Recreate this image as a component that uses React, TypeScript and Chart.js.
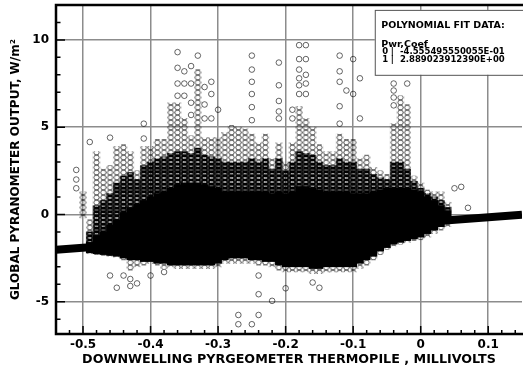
import React, { useEffect, useRef } from 'react';
import { Chart, registerables } from 'chart.js';

Chart.register(...registerables);

// ---- data ----
// columns of measurements (x in millivolts) with the extents of their circle stacks
const colX = [-0.50, -0.49, -0.48, -0.47, -0.46, -0.45, -0.44, -0.43, -0.42, -0.41,
  -0.40, -0.39, -0.38, -0.37, -0.36, -0.35, -0.34, -0.33, -0.32, -0.31,
  -0.30, -0.29, -0.28, -0.27, -0.26, -0.25, -0.24, -0.23, -0.22, -0.21,
  -0.20, -0.19, -0.18, -0.17, -0.16, -0.15, -0.14, -0.13, -0.12, -0.11,
  -0.10, -0.09, -0.08, -0.07, -0.06, -0.05, -0.04, -0.03, -0.02, -0.01,
  0.00, 0.01, 0.02, 0.03, 0.04];
// whole visible stack (sparse circles)
const spreadLo = [-0.2, -2.25, -2.3, -2.35, -2.4, -2.45, -2.6, -3.2, -3.0, -2.9,
  -2.8, -2.9, -3.1, -3.0, -3.1, -3.1, -3.1, -3.1, -3.1, -3.1,
  -3.0, -2.8, -2.8, -2.8, -2.8, -2.8, -2.9, -2.9, -3.0, -3.2,
  -3.3, -3.3, -3.3, -3.3, -3.4, -3.4, -3.3, -3.3, -3.3, -3.3,
  -3.3, -3.1, -2.9, -2.6, -2.3, -2.0, -1.8, -1.7, -1.6, -1.5,
  -1.45, -1.3, -1.1, -0.9, -0.7];
const spreadHi = [1.3, -0.3, 3.6, 2.6, 2.8, 3.9, 4.0, 3.6, 2.5, 3.9,
  3.9, 4.3, 4.3, 6.4, 6.4, 5.5, 4.5, 8.3, 4.4, 4.4,
  4.4, 4.7, 5.1, 5.0, 4.9, 4.6, 4.1, 4.6, 3.2, 4.1,
  3.0, 4.1, 6.2, 5.5, 5.0, 4.0, 3.6, 3.6, 4.6, 4.3,
  4.3, 3.2, 3.4, 2.7, 2.5, 2.3, 5.2, 6.8, 6.3, 2.2,
  1.8, 1.4, 1.3, 1.3, 0.7];
// top of the crowded (dark grey) part of each stack
const midHi = [null, -1.0, 0.5, 0.8, 1.2, 1.8, 2.2, 2.4, 2.0, 2.8,
  3.0, 3.2, 3.3, 3.5, 3.6, 3.6, 3.5, 3.8, 3.4, 3.3,
  3.2, 3.0, 3.0, 3.0, 3.0, 3.2, 3.0, 3.2, 2.6, 3.2,
  2.5, 3.0, 3.6, 3.5, 3.4, 3.0, 2.8, 2.8, 3.2, 3.0,
  3.0, 2.6, 2.6, 2.3, 2.1, 2.0, 3.0, 3.0, 2.6, 1.9,
  1.5, 1.2, 1.0, 0.8, 0.4];
// solid black core
const coreLo = [null, -2.2, -2.25, -2.3, -2.35, -2.4, -2.5, -2.6, -2.6, -2.7,
  -2.7, -2.8, -2.8, -2.9, -2.9, -2.9, -2.9, -2.9, -2.9, -2.9,
  -2.8, -2.6, -2.5, -2.5, -2.5, -2.6, -2.6, -2.7, -2.7, -2.9,
  -3.0, -3.0, -3.0, -3.0, -3.1, -3.1, -3.0, -3.0, -3.0, -3.0,
  -3.0, -2.8, -2.6, -2.4, -2.1, -1.9, -1.7, -1.6, -1.5, -1.4,
  -1.3, -1.1, -0.9, -0.7, -0.5];
const coreHi = [null, -1.6, -1.2, -1.0, -0.6, -0.3, 0.1, 0.4, 0.6, 0.8,
  1.0, 1.2, 1.3, 1.5, 1.7, 1.8, 1.8, 1.8, 1.7, 1.6,
  1.5, 1.3, 1.3, 1.3, 1.3, 1.3, 1.3, 1.3, 1.2, 1.3,
  1.2, 1.3, 1.6, 1.6, 1.5, 1.4, 1.3, 1.3, 1.3, 1.3,
  1.2, 1.2, 1.2, 1.3, 1.4, 1.5, 1.5, 1.5, 1.5, 1.4,
  1.3, 1.0, 0.8, 0.5, 0.2];

// isolated circles
const outX = [-0.51, -0.51, -0.51, -0.49, -0.46, -0.46, -0.45, -0.44, -0.43, -0.43,
  -0.42, -0.41, -0.41, -0.40, -0.38,
  -0.36, -0.36, -0.36, -0.36, -0.35, -0.35, -0.35, -0.34, -0.34, -0.34, -0.34,
  -0.33, -0.32, -0.32, -0.32, -0.31, -0.31, -0.31, -0.30,
  -0.27, -0.27, -0.25, -0.25, -0.25, -0.25, -0.25, -0.25, -0.25,
  -0.24, -0.24, -0.24, -0.22, -0.21, -0.21, -0.21, -0.21, -0.21, -0.20, -0.19, -0.19,
  -0.18, -0.18, -0.18, -0.18, -0.18, -0.18, -0.17, -0.17, -0.17, -0.17, -0.17,
  -0.16, -0.15, -0.12, -0.12, -0.12, -0.12, -0.12, -0.11, -0.10, -0.10, -0.09, -0.09,
  -0.04, -0.04, -0.04, -0.04, -0.02, 0.05, 0.06, 0.07];
const outY = [2.55, 2.0, 1.5, 4.15, 4.4, -3.5, -4.2, -3.5, -3.7, -4.1,
  -3.95, 5.2, 4.35, -3.5, -3.3,
  9.3, 8.4, 7.5, 6.8, 8.2, 7.5, 6.8, 8.5, 7.5, 6.4, 5.7,
  9.1, 7.3, 6.3, 5.5, 7.6, 6.9, 5.5, 6.0,
  -5.76, -6.29, 9.1, 8.3, 7.6, 6.9, 6.15, 5.4, -6.29,
  -5.76, -4.57, -3.5, -4.95, 8.7, 7.4, 6.5, 5.9, 5.5, -4.23, 6.0, 5.5,
  9.7, 8.9, 8.3, 7.8, 7.4, 6.9, 9.7, 8.9, 8.0, 7.5, 6.9,
  -3.9, -4.2, 9.1, 8.2, 7.6, 6.2, 5.2, 7.1, 8.9, 6.9, 7.8, 5.5,
  7.5, 7.1, 6.7, 6.25, 7.5, 1.5, 1.58, 0.38];

// polynomial fit line (end points)
const fitX = [-0.54, 0.15];
const fitY = [-2.02, -0.02];

// axes
const xMajor = [-0.5, -0.4, -0.3, -0.2, -0.1, 0, 0.1];
const xLabels = ['-0.5', '-0.4', '-0.3', '-0.2', '-0.1', '0', '0.1'];
const xMinor = [-0.54, -0.52, -0.48, -0.46, -0.44, -0.42, -0.38, -0.36, -0.34, -0.32,
  -0.28, -0.26, -0.24, -0.22, -0.18, -0.16, -0.14, -0.12, -0.08, -0.06, -0.04, -0.02,
  0.02, 0.04, 0.06, 0.08, 0.12, 0.14];
const yMajor = [-5, 0, 5, 10];
const yLabels = ['-5', '0', '5', '10'];
const yMinor = [-6, -4, -3, -2, -1, 1, 2, 3, 4, 6, 7, 8, 9, 11];

const xTitle = 'DOWNWELLING PYRGEOMETER THERMOPILE , MILLIVOLTS';
const yTitle = 'GLOBAL PYRANOMETER OUTPUT, W/m²';
const fitTitle = 'POLYNOMIAL FIT DATA:';
const fitHeader = 'Pwr,Coef';
const fitPowers = ['0', '1'];
const fitCoefs = ['-4.555495550055E-01', '2.889023912390E+00'];

const FONT = "'DejaVu Sans', 'Liberation Sans', Arial, sans-serif";

function circlePattern(chart: any, name: string, stroke: string, lw: number, pitch: number, bg: string, fallback: string) {
  const xs = chart.scales && chart.scales.x;
  if (!xs) return fallback;
  const p0 = xs.getPixelForValue(0);
  const p1 = xs.getPixelForValue(0.01);
  const step = p1 - p0;
  if (!isFinite(step) || step <= 0) return fallback;
  const key = name + '|' + step.toFixed(3) + '|' + p0.toFixed(2);
  chart.$patterns = chart.$patterns || {};
  if (chart.$patterns[key]) return chart.$patterns[key];
  const c = document.createElement('canvas');
  c.width = 7;
  c.height = pitch;
  const g = c.getContext('2d')!;
  if (bg) {
    g.fillStyle = bg;
    g.fillRect(0, 0, 7, pitch);
  }
  g.strokeStyle = stroke;
  g.lineWidth = lw;
  const h = pitch / 2;
  for (const cy of [h - pitch * 2, h - pitch, h, h + pitch, h + pitch * 2]) {
    g.beginPath();
    g.arc(3.5, cy, 2.6, 0, Math.PI * 2);
    g.stroke();
  }
  const pat = chart.ctx.createPattern(c, 'repeat');
  if (!pat) return fallback;
  pat.setTransform(new DOMMatrix([step / 7, 0, 0, 1, p0 - step / 2, 0]));
  chart.$patterns[key] = pat;
  return pat;
}

const decorPlugin = {
  id: 'decor',
  afterDraw(chart: any) {
    const { ctx, chartArea: a, scales } = chart;
    const xs = scales.x;
    const ys = scales.y;
    ctx.save();
    // inward ticks
    ctx.strokeStyle = '#000';
    ctx.lineWidth = 1.5;
    ctx.beginPath();
    for (const v of xMajor) {
      const px = xs.getPixelForValue(v);
      ctx.moveTo(px, a.bottom);
      ctx.lineTo(px, a.bottom - 8);
    }
    for (const v of xMinor) {
      const px = xs.getPixelForValue(v);
      ctx.moveTo(px, a.bottom);
      ctx.lineTo(px, a.bottom - 4);
    }
    for (const v of yMajor) {
      const py = ys.getPixelForValue(v);
      ctx.moveTo(a.left, py);
      ctx.lineTo(a.left + 9, py);
    }
    for (const v of yMinor) {
      const py = ys.getPixelForValue(v);
      ctx.moveTo(a.left, py);
      ctx.lineTo(a.left + 4.5, py);
    }
    ctx.stroke();
    // frame
    ctx.lineWidth = 2.5;
    ctx.strokeRect(a.left, a.top, a.right - a.left + 3, a.bottom - a.top);

    // fit info box
    const bx = xs.getPixelForValue(-0.068);
    const by = ys.getPixelForValue(11.72);
    const bw = a.right + 3 - bx;
    const bh = ys.getPixelForValue(8.0) - by;
    ctx.fillStyle = '#fff';
    ctx.fillRect(bx, by, bw, bh);
    ctx.strokeStyle = '#555';
    ctx.lineWidth = 1;
    ctx.strokeRect(bx + 0.5, by + 0.5, bw, bh);
    ctx.fillStyle = '#000';
    ctx.textBaseline = 'alphabetic';
    ctx.textAlign = 'left';
    ctx.font = `bold 9.5px ${FONT}`;
    ctx.fillText(fitTitle, bx + 6.5, by + 18.3);
    ctx.fillText(fitHeader, bx + 6.5, by + 36.7);
    ctx.font = `bold 8.5px ${FONT}`;
    for (let i = 0; i < fitPowers.length; i++) {
      const yy = by + 44.5 + i * 7.7;
      ctx.textAlign = 'left';
      ctx.fillText(fitPowers[i], bx + 7.5, yy);
      ctx.fillText('|', bx + 16, yy);
      ctx.textAlign = 'right';
      ctx.fillText(fitCoefs[i], bx + 130, yy);
    }
    ctx.restore();
  },
};

export default function App() {
  const ref = useRef<HTMLCanvasElement | null>(null);
  useEffect(() => {
    if (!ref.current) return;
    const spreadData = colX.map((x, i) => ({ x, y: [spreadLo[i], spreadHi[i]] }));
    const midData = colX
      .map((x, i) => ({ x, lo: coreHi[i], hi: midHi[i] }))
      .filter((d) => d.lo !== null && d.hi !== null)
      .map((d) => ({ x: d.x, y: [d.lo as number, d.hi as number] }));
    const coreData = colX
      .map((x, i) => ({ x, lo: coreLo[i], hi: coreHi[i] }))
      .filter((d) => d.lo !== null && d.hi !== null)
      .map((d) => ({ x: d.x, y: [d.lo as number, d.hi as number] }));
    const outData = outX.map((x, i) => ({ x, y: outY[i] }));
    const fitData = fitX.map((x, i) => ({ x, y: fitY[i] }));

    const tickFont = { family: FONT, size: 12, weight: 'bold' as const };

    const chart = new Chart(ref.current, {
      type: 'scatter',
      data: {
        datasets: [
          {
            type: 'line',
            data: fitData,
            borderColor: '#000',
            borderWidth: 8,
            pointRadius: 0,
            showLine: true,
            fill: false,
            order: 0,
          } as any,
          {
            type: 'scatter',
            data: outData,
            pointStyle: 'circle',
            pointRadius: 2.8,
            borderWidth: 1,
            borderColor: 'rgba(0,0,0,0.6)',
            backgroundColor: 'rgba(0,0,0,0)',
            order: 1,
          } as any,
          {
            type: 'bar',
            data: coreData,
            backgroundColor: '#000',
            borderWidth: 0,
            barThickness: 7,
            stack: 'cols',
            order: 2,
          } as any,
          {
            type: 'bar',
            data: midData,
            backgroundColor: (c: any) => circlePattern(c.chart, 'mid', '#000', 1.4, 4, 'rgba(0,0,0,0.3)', 'rgba(0,0,0,0.7)'),
            borderWidth: 0,
            barThickness: 7,
            stack: 'cols',
            order: 3,
          } as any,
          {
            type: 'bar',
            data: spreadData,
            backgroundColor: (c: any) => circlePattern(c.chart, 'spread', 'rgba(0,0,0,0.65)', 1, 5, '', 'rgba(0,0,0,0.35)'),
            borderWidth: 0,
            barThickness: 7,
            stack: 'cols',
            order: 4,
          } as any,
        ],
      },
      options: {
        responsive: false,
        animation: false,
        events: [],
        layout: { autoPadding: false, padding: { top: 5, right: 1, left: 0, bottom: 0 } },
        plugins: { legend: { display: false }, tooltip: { enabled: false } },
        scales: {
          x: {
            type: 'linear',
            min: -0.54,
            max: 0.15,
            offset: false,
            afterBuildTicks: (s: any) => {
              s.ticks = xMajor.map((v) => ({ value: v }));
            },
            afterFit: (s: any) => {
              s.height = 34;
              s.paddingLeft = 0;
              s.paddingRight = 0;
            },
            grid: { color: '#8c8c8c', lineWidth: 1.5, drawTicks: false, offset: false },
            border: { display: false },
            ticks: {
              autoSkip: false,
              maxRotation: 0,
              padding: 4,
              color: '#000',
              font: tickFont,
              callback: (v: any) => xLabels[xMajor.indexOf(Number(v))],
            },
            title: {
              display: true,
              text: xTitle,
              color: '#000',
              font: { family: FONT, size: 12.7, weight: 'bold' },
              padding: { top: 0, bottom: 0.5 },
            },
          },
          y: {
            type: 'linear',
            min: -6.85,
            max: 12,
            stacked: false,
            afterBuildTicks: (s: any) => {
              s.ticks = yMajor.map((v) => ({ value: v }));
            },
            afterFit: (s: any) => {
              s.width = 56;
              s.paddingTop = 0;
              s.paddingBottom = 0;
            },
            grid: { color: '#8c8c8c', lineWidth: 1.5, drawTicks: false },
            border: { display: false },
            ticks: {
              autoSkip: false,
              padding: 7,
              color: '#000',
              font: tickFont,
              callback: (v: any) => yLabels[yMajor.indexOf(Number(v))],
            },
            title: {
              display: true,
              text: yTitle,
              color: '#000',
              font: { family: FONT, size: 12, weight: 'bold' },
              padding: { top: 8.8, bottom: 0 },
            },
          },
        },
      } as any,
      plugins: [decorPlugin],
    });
    return () => chart.destroy();
  }, []);

  return (
    <div style={{ position: 'fixed', left: 0, top: 0, width: 523, height: 368, background: '#fff' }}>
      <canvas ref={ref} width={523} height={368} style={{ display: 'block' }} />
    </div>
  );
}
